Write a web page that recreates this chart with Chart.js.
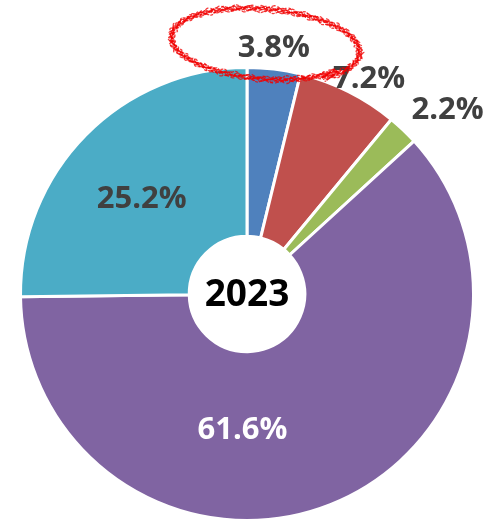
<!DOCTYPE html>
<html>
<head>
<meta charset="utf-8">
<script src="https://cdn.jsdelivr.net/npm/chart.js@4"></script>
<style>
  html, body { margin: 0; padding: 0; background: #fff; }
  #wrap { width: 494px; height: 522px; position: relative; }
</style>
</head>
<body>
<div id="wrap"><canvas id="pie_chart"></canvas></div>
<script>
var categories = ["A", "B", "C", "D", "E"];
var shares = [3.8, 7.2, 2.2, 61.6, 25.2];
var centerLabel = "2023";
var colors = ["#4F81BD", "#C0504D", "#9BBB59", "#8064A2", "#4BACC6"];

// label placement: radius factor (of outer radius) and angle shift in degrees
var labelPlace = [
	{ r: 1.09, da: -0.6, color: "#404040" },
	{ r: 1.09, da: 3, color: "#404040" },
	{ r: 1.20, da: 4, color: "#404040" },
	{ r: 0.60, da: 23.5, color: "#ffffff" },
	{ r: 0.625, da: -2.7, color: "#404040" }
];

var labelPlugin = {
	id: "labels",
	afterDatasetsDraw: function(chart){
		var c = chart.ctx;
		var meta = chart.getDatasetMeta(0);
		var pos = [];
		c.save();
		c.font = "bold 31px 'Open Sans'";
		c.textAlign = "center";
		c.textBaseline = "middle";
		meta.data.forEach(function(arc, i){
			var p = arc.getProps(["x", "y", "startAngle", "endAngle", "outerRadius"], true);
			var a = (p.startAngle + p.endAngle) / 2 + labelPlace[i].da * Math.PI / 180;
			var r = p.outerRadius * labelPlace[i].r;
			pos.push([p.x + Math.cos(a) * r, p.y + Math.sin(a) * r]);
			c.fillStyle = labelPlace[i].color;
			c.fillText(shares[i].toFixed(1) + "%", pos[i][0], pos[i][1]);
		});
		var a0 = meta.data[0];
		c.fillStyle = "#000";
		c.font = "bold 37px 'Open Sans'";
		c.fillText(centerLabel, a0.x, a0.y + 1);

		// hand drawn red ring around the first label
		var cx = pos[0][0] - 10;
		var cy = pos[0][1] - 4;
		var rot = 5 * Math.PI / 180;
		for(var k=0; k<8; k++){
			c.beginPath();
			var first = true;
			for(var t=0.6; t<=2*Math.PI + 0.9; t+=0.015){
				var w = Math.sin(t*43 + k*1.3) * 1.2 + Math.sin(t*9 + k*2.1) * 1.1 + (k - 3.5) * 0.5;
				var grow = 1 + (t - 0.6) * 0.012;
				var ex = Math.cos(t) * (90 + w) * grow;
				var ey = Math.sin(t) * (34 + w) * grow;
				var px = cx + ex * Math.cos(rot) - ey * Math.sin(rot);
				var py = cy + ex * Math.sin(rot) + ey * Math.cos(rot);
				if(first){ c.moveTo(px, py); first = false; } else c.lineTo(px, py);
			}
			c.strokeStyle = "rgba(240,0,0,0.75)";
			c.lineWidth = 1.3;
			c.setLineDash([3 + k % 3, 1 + k % 2]);
			c.stroke();
		}
		c.restore();
	}
};

new Chart(document.getElementById("pie_chart"), {
	type: "doughnut",
	data: {
		labels: categories,
		datasets: [{
			data: shares,
			backgroundColor: colors,
			borderColor: "#ffffff",
			borderWidth: 3
		}]
	},
	options: {
		responsive: true,
		maintainAspectRatio: false,
		animation: false,
		cutout: "25.5%",
		layout: { padding: { left: 18, right: 18, top: 66, bottom: 0 } },
		plugins: {
			legend: { display: false },
			tooltip: { enabled: false }
		}
	},
	plugins: [labelPlugin]
});
</script>
</body>
</html>
